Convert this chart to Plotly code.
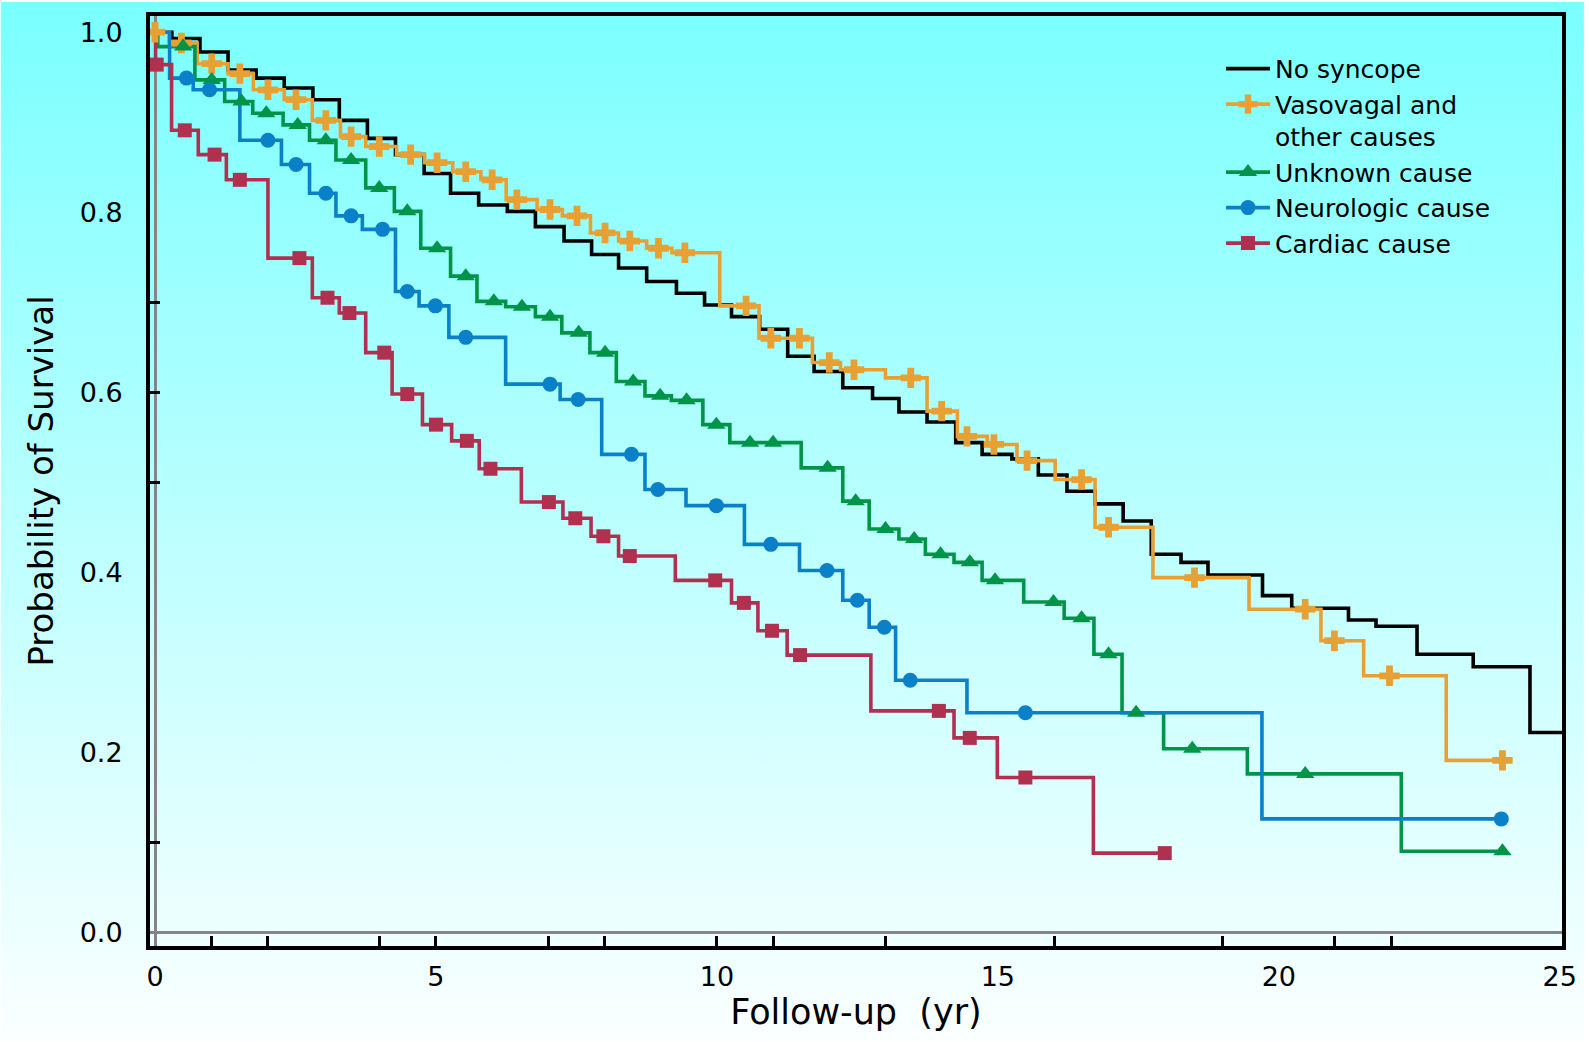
import base64
import numpy as np
import plotly.graph_objects as go

# ---------------- data ----------------
# Kaplan-Meier steps: time (yr) where survival drops, and the new survival level
no_syncope_t = [0, 0.30, 0.80, 1.30, 1.80, 2.30, 2.81, 3.28, 3.78, 4.28, 4.79, 5.26, 5.76, 6.27, 6.77,
                7.28, 7.77, 8.25, 8.75, 9.28, 9.78, 10.26, 10.76, 11.26, 11.73, 12.24, 12.77, 13.24,
                13.74, 14.25, 14.72, 15.25, 15.72, 16.23, 16.73, 17.23, 17.73, 18.26, 18.74, 19.71,
                20.23, 21.24, 21.73, 22.46, 23.46, 24.47]
no_syncope_s = [1.0, 0.993, 0.978, 0.958, 0.949, 0.938, 0.925, 0.902, 0.882, 0.864, 0.843, 0.821, 0.808,
                0.801, 0.784, 0.768, 0.753, 0.738, 0.723, 0.710, 0.697, 0.684, 0.670, 0.640, 0.623, 0.605,
                0.593, 0.578, 0.567, 0.544, 0.531, 0.526, 0.508, 0.490, 0.476, 0.457, 0.420, 0.411, 0.397,
                0.374, 0.360, 0.347, 0.340, 0.309, 0.295, 0.222]
no_syncope_end = 25.1

vasovagal_t = [0, 0.25, 0.75, 1.30, 1.75, 2.30, 2.80, 3.30, 3.75, 4.30, 4.80, 5.30, 5.80, 6.25, 6.80,
               7.25, 7.75, 8.25, 8.75, 9.20, 10.05, 10.75, 11.70, 12.20, 13.00, 13.74, 14.28, 14.81,
               15.34, 16.02, 16.73, 17.76, 19.47, 20.75, 21.51, 22.98]
vasovagal_s = [1.0, 0.988, 0.965, 0.954, 0.936, 0.925, 0.902, 0.884, 0.873, 0.864, 0.855, 0.845, 0.836,
               0.814, 0.803, 0.796, 0.777, 0.768, 0.760, 0.755, 0.696, 0.660, 0.633, 0.625, 0.616, 0.579,
               0.551, 0.542, 0.524, 0.503, 0.450, 0.394, 0.359, 0.324, 0.285, 0.191]
vasovagal_end = 23.98
vasovagal_marks = [0.0, 0.47, 1.01, 1.51, 2.01, 2.51, 3.04, 3.49, 3.99, 4.55, 5.02, 5.53, 6.0, 6.44, 7.03,
                   7.51, 8.01, 8.45, 8.96, 9.43, 10.52, 10.96, 11.47, 12.0, 12.44, 13.45, 14.0, 14.45,
                   14.93, 15.52, 16.49, 16.97, 18.5, 20.47, 20.99, 21.97, 23.98]

unknown_t = [0, 0.05, 0.71, 1.24, 1.74, 2.28, 2.75, 3.22, 3.75, 4.26, 4.73, 5.26, 5.73, 6.24, 6.77,
             7.24, 7.74, 8.21, 8.72, 9.19, 9.75, 10.23, 11.50, 12.24, 12.71, 13.24, 13.71, 14.22,
             14.72, 15.46, 16.18, 16.71, 17.21, 17.95, 19.44, 22.18]
unknown_s = [1.0, 0.984, 0.947, 0.923, 0.910, 0.897, 0.880, 0.858, 0.827, 0.801, 0.760, 0.729, 0.701,
             0.695, 0.684, 0.666, 0.644, 0.612, 0.596, 0.591, 0.564, 0.544, 0.516, 0.479, 0.448, 0.437,
             0.420, 0.411, 0.391, 0.367, 0.349, 0.309, 0.244, 0.204, 0.176, 0.090]
unknown_end = 23.98
unknown_marks = [0.50, 1.01, 1.54, 1.98, 2.54, 3.04, 3.49, 3.99, 4.49, 5.02, 5.53, 6.03, 6.53, 7.03, 7.54,
                 8.01, 8.51, 8.99, 9.46, 9.99, 10.59, 11.0, 11.97, 12.47, 13.0, 13.51, 13.98, 14.50,
                 14.95, 15.99, 16.49, 16.97, 17.46, 18.46, 20.47, 23.98]

neuro_t = [0, 0.26, 0.68, 1.51, 2.25, 2.75, 3.22, 3.69, 4.28, 4.70, 5.23, 6.24, 7.21, 7.95, 8.72, 9.45,
           10.49, 11.47, 12.24, 12.71, 13.18, 14.45, 19.70]
neuro_s = [1.0, 0.949, 0.936, 0.880, 0.853, 0.821, 0.796, 0.781, 0.712, 0.696, 0.661, 0.609, 0.592,
           0.531, 0.492, 0.474, 0.431, 0.402, 0.369, 0.339, 0.280, 0.244, 0.126]
neuro_end = 23.96
neuro_marks = [0.56, 0.97, 2.01, 2.51, 3.04, 3.49, 4.05, 4.49, 4.99, 5.53, 7.03, 7.53, 8.48, 8.95, 9.99,
               10.96, 11.96, 12.50, 12.98, 13.44, 15.49, 23.96]

cardiac_t = [0, 0.01, 0.295, 0.77, 1.27, 2.01, 2.80, 3.28, 3.75, 4.22, 4.76, 5.28, 5.77, 6.52, 7.26,
             7.76, 8.25, 9.26, 10.26, 10.73, 11.25, 12.74, 14.22, 14.99, 16.70]
cardiac_s = [1.0, 0.964, 0.891, 0.864, 0.836, 0.749, 0.705, 0.688, 0.644, 0.598, 0.564, 0.546, 0.515,
             0.478, 0.460, 0.440, 0.418, 0.391, 0.366, 0.335, 0.308, 0.246, 0.216, 0.172, 0.088]
cardiac_end = 17.97
cardiac_marks = [0.03, 0.53, 1.06, 1.51, 2.57, 3.07, 3.46, 4.08, 4.49, 5.0, 5.55, 5.97, 7.01, 7.48, 7.98,
                 8.45, 9.97, 10.48, 10.98, 11.48, 13.95, 14.50, 15.49, 17.97]

x_tick_values = [0, 5, 10, 15, 20, 25]
x_tick_labels = ["0", "5", "10", "15", "20", "25"]
y_tick_values = [0.0, 0.2, 0.4, 0.6, 0.8, 1.0]
y_tick_labels = ["0.0", "0.2", "0.4", "0.6", "0.8", "1.0"]
x_small_ticks = [1, 2, 4, 5, 7, 8, 10, 11, 13, 16, 19, 21, 22]
y_small_ticks = [0.1, 0.5, 0.6, 0.7]

# ---------------- figure ----------------
def step_level(times, levels, query):
    idx = np.searchsorted(np.asarray(times), np.asarray(query), side="right") - 1
    return np.asarray(levels)[idx]

groups = [
    ("No syncope", no_syncope_t, no_syncope_s, no_syncope_end, None, "#000000", None, 0),
    ("Vasovagal and<br>other causes", vasovagal_t, vasovagal_s, vasovagal_end, vasovagal_marks,
     "#E6A034", "cross", 17),
    ("Unknown cause", unknown_t, unknown_s, unknown_end, unknown_marks, "#009448", "triangle-up", 16),
    ("Neurologic cause", neuro_t, neuro_s, neuro_end, neuro_marks, "#0A80C8", "circle", 15),
    ("Cardiac cause", cardiac_t, cardiac_s, cardiac_end, cardiac_marks, "#B0304F", "square", 14),
]

fig = go.Figure()
FONT = "DejaVu Sans"
LW = 3.6

for name, t, s, end, marks, color, symbol, msize in groups:
    xs = list(t) + [end]
    ys = list(s) + [s[-1]]
    fig.add_trace(go.Scatter(x=xs, y=ys, mode="lines", line=dict(color=color, width=LW, shape="hv"),
                             showlegend=False, legendgroup=name, hoverinfo="skip"))
    if marks is not None:
        fig.add_trace(go.Scatter(x=marks, y=step_level(t, s, marks), mode="markers",
                                 marker=dict(symbol=symbol, size=msize, color=color, line=dict(width=0)),
                                 xaxis="x2", yaxis="y2", showlegend=False, legendgroup=name))
    # legend entry (line + marker symbol)
    fig.add_trace(go.Scatter(x=[None], y=[None], name=name, legendgroup=name,
                             mode="lines+markers" if marks is not None else "lines",
                             line=dict(color=color, width=LW),
                             marker=dict(symbol=symbol or "circle", size=msize or 1, color=color)))

# gradient background (cyan -> white) as an SVG image behind everything
svg = ('<svg xmlns="http://www.w3.org/2000/svg" width="100" height="100" viewBox="0 0 100 100" '
       'preserveAspectRatio="none"><defs><linearGradient id="bg" x1="0" y1="0" x2="0" y2="1">'
       '<stop offset="0" stop-color="#7AFFFF"/><stop offset="1" stop-color="#FBFFFF"/>'
       '</linearGradient></defs><rect width="100" height="100" fill="url(#bg)"/></svg>')
src = "data:image/svg+xml;base64," + base64.b64encode(svg.encode()).decode()

W, H = 1589, 1042
ML, MR, MT, MB = 150, 22, 14, 96
PW, PH = W - ML - MR, H - MT - MB

fig.add_layout_image(dict(source=src, xref="paper", yref="paper", x=-ML / PW, y=1 + MT / PH,
                          sizex=W / PW, sizey=H / PH, xanchor="left", yanchor="top",
                          sizing="stretch", layer="below"))

x_range = [-0.089, 25.04]
y_range = [-0.0152, 1.018]

fig.update_layout(
    width=W, height=H,
    margin=dict(l=ML, r=MR, t=MT, b=MB, pad=0),
    paper_bgcolor="white",
    plot_bgcolor="rgba(0,0,0,0)",
    font=dict(family=FONT, color="black"),
    xaxis=dict(range=x_range, tickvals=x_tick_values, ticktext=x_tick_labels, ticks="",
               showgrid=False, zeroline=True, zerolinecolor="#858585", zerolinewidth=3,
               showline=True, mirror=True, linecolor="black", linewidth=4,
               tickfont=dict(size=27, family=FONT, color="black"), ticklabelstandoff=4,
               title=dict(text="Follow-up\u00a0 (yr)", font=dict(size=35, family=FONT, color="black"),
                          standoff=9)),
    yaxis=dict(range=y_range, tickvals=y_tick_values, ticktext=y_tick_labels, ticks="",
               showgrid=False, zeroline=True, zerolinecolor="#858585", zerolinewidth=3,
               showline=True, mirror=True, linecolor="black", linewidth=4,
               tickfont=dict(size=27, family=FONT, color="black"), ticklabelstandoff=18,
               title=dict(text="Probability of Survival", font=dict(size=34, family=FONT, color="black"),
                          standoff=17)),
    xaxis2=dict(overlaying="x", matches="x", anchor="y2", side="bottom", tickvals=x_small_ticks,
                ticks="inside", ticklen=10, tickwidth=3, tickcolor="black", showticklabels=False,
                showgrid=False, zeroline=False, showline=False),
    yaxis2=dict(overlaying="y", matches="y", anchor="x2", side="left", tickvals=y_small_ticks,
                ticks="inside", ticklen=10, tickwidth=3, tickcolor="black", showticklabels=False,
                showgrid=False, zeroline=False, showline=False),
    legend=dict(x=0.7585, y=0.9679, xanchor="left", yanchor="top", bgcolor="rgba(0,0,0,0)",
                borderwidth=0, font=dict(size=25, family=FONT, color="black"), valign="top",
                tracegroupgap=0, itemwidth=44),
    showlegend=True,
)

fig.write_html("out.html")
